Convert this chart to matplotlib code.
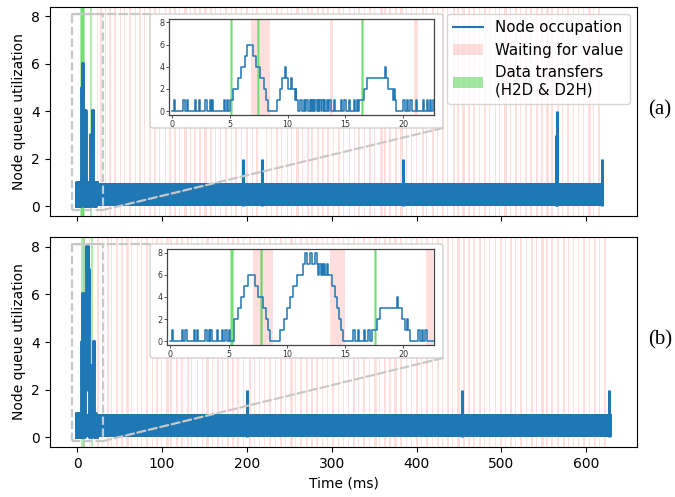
import numpy as np
import matplotlib.pyplot as plt
from matplotlib.lines import Line2D
from matplotlib.patches import Patch, Rectangle, FancyBboxPatch, ConnectionPatch

BLUE = "#1f77b4"
WAIT_COLOR = "red"
WAIT_ALPHA = 0.13
XFER_COLOR = "limegreen"
XFER_ALPHA = 0.45
GUIDE = "#c8c8c8"

# ---- run (a) ----
# queue ramps: (time ms, level after the change)
ramps_a = [(5.0, 1), (5.3, 2), (5.7, 3), (6.0, 4), (6.3, 5), (6.5, 6), (7.0, 5),
           (7.3, 4), (7.65, 3), (8.0, 2), (8.15, 1), (8.3, 0),
           (9.1, 1), (9.3, 2), (9.55, 3), (9.8, 4), (9.9, 3), (10.0, 2), (10.3, 3),
           (10.4, 2), (10.6, 1), (10.7, 2), (10.75, 1), (10.9, 0),
           (16.2, 1), (16.6, 2), (16.9, 3), (18.4, 4), (18.5, 3), (18.7, 2),
           (19.1, 1), (19.2, 2), (19.3, 1), (19.4, 0), (22.6, 1)]
# single-task blips (0 -> 1 -> 0)
blips_a = [0.15, 1.0, 1.3, 2.0, 2.3, 2.9, 3.3, 3.45, 4.5, 4.75,
           11.1, 11.4, 11.6, 11.9, 12.05, 12.2, 12.4, 12.6, 12.75, 13.0, 13.15,
           13.4, 13.6, 14.0, 14.6, 14.9, 15.3, 15.7, 16.0,
           20.0, 20.3, 20.6, 21.1, 21.7, 22.0, 22.3]
busy_end_a = 620
spikes_a = [(196, 2), (217.7, 2), (384, 2), (564.6, 3), (565.3, 4), (619, 2)]
transfers_a = [5.15, 7.5, 16.45]
wait_a = [(6.86, 7.43), (7.57, 8.51), (13.7, 13.9), (20.9, 21.3)]
wait_start_a = [23.5, 27, 33, 38, 44, 50, 55, 61, 68, 73, 79, 85, 91, 96, 103, 108,
                114, 120, 126, 133, 138, 144, 150, 157, 162, 168, 174, 181, 186, 193,
                199, 206, 211, 222, 228, 234, 240, 247, 252, 258, 265, 271, 276, 283,
                289, 295, 301, 307, 313, 320, 326, 331, 338, 344, 350, 357, 362, 368,
                375, 381, 387, 393, 399, 406, 411, 418, 424, 430, 436, 443, 448, 454,
                461, 467, 473, 479, 485, 492, 497, 503, 510, 516, 522, 528, 534, 541,
                547, 553, 559, 566, 571, 577, 584, 590, 596, 602, 608, 614]
wait_width_a = [1.5, 2, 1.5, 2.5, 1.5, 2, 1.5, 3, 1.5, 2, 1.5, 2.5, 1.5, 2, 1.5, 2.5,
                2, 1.5, 3, 1.5, 2, 1.5, 2.5, 1.5, 2, 1.5, 3, 1.5, 2, 1.5,
                2.5, 1.5, 2, 2, 1.5, 2.5, 1.5, 2, 1.5, 3, 1.5, 2, 1.5, 2.5,
                1.5, 2, 1.5, 3, 1.5, 2, 1.5, 2.5, 1.5, 2, 1.5, 3, 1.5, 2,
                1.5, 2.5, 1.5, 2, 1.5, 3, 1.5, 2, 1.5, 2.5, 1.5, 2, 1.5, 3,
                1.5, 2, 1.5, 2.5, 1.5, 2, 1.5, 3, 1.5, 2, 1.5, 2.5, 1.5, 2,
                1.5, 3, 1.5, 2, 1.5, 2.5, 1.5, 2, 1.5, 3, 1.5, 2]

# ---- run (b) ----
ramps_b = [(5.09, 1), (5.43, 2), (5.8, 3), (6.09, 4), (6.37, 5), (6.66, 6), (7.29, 5),
           (7.57, 4), (8.0, 3), (8.23, 2), (8.37, 1), (8.57, 0),
           (9.43, 1), (9.77, 2), (10.0, 3), (10.29, 4), (10.57, 5), (10.86, 6),
           (11.37, 7), (11.57, 8), (11.71, 7), (12.0, 8), (12.14, 7), (12.43, 8),
           (12.57, 7), (12.7, 6), (12.78, 7), (12.9, 6), (13.0, 7), (13.1, 6),
           (13.2, 7), (13.3, 6), (13.45, 7), (13.55, 6), (13.86, 5), (14.14, 4),
           (14.29, 3), (14.5, 2), (14.66, 1), (14.8, 0),
           (17.29, 1), (17.71, 2), (18.0, 3), (19.43, 4), (19.52, 3), (19.86, 2),
           (20.14, 1), (20.35, 2), (20.45, 1), (20.57, 0)]
blips_b = [0.15, 1.0, 1.3, 2.0, 2.3, 3.0, 3.3, 3.45, 4.0, 4.43, 4.71, 5.0,
           15.7, 16.1, 16.6, 17.0, 21.3, 21.6, 21.9]
busy_end_b = 630
spikes_b = [(200, 2), (453, 2), (627, 2)]
transfers_b = [5.3, 7.8, 17.6]
wait_b = [(7.06, 7.8), (7.8, 8.86), (13.7, 15.0), (22.0, 22.6)]
wait_start_b = [24, 29, 35, 40, 46, 52, 58, 63, 70, 75, 81, 88, 93, 99, 105, 110,
                117, 123, 129, 134, 141, 147, 152, 159, 165, 171, 177, 183, 189, 195,
                202, 208, 214, 220, 226, 233, 239, 245, 251, 257, 263, 270, 276, 282,
                288, 294, 300, 307, 313, 319, 325, 331, 337, 344, 350, 356, 362, 368,
                374, 381, 387, 393, 399, 405, 411, 418, 424, 430, 436, 442, 448, 455,
                461, 467, 473, 479, 485, 492, 498, 504, 510, 516, 522, 529, 535, 541,
                547, 553, 559, 566, 572, 578, 584, 590, 596, 603, 609, 615, 621]
wait_width_b = [2, 1.5, 2.5, 1.5, 2, 1.5, 3, 1.5, 2, 1.5, 2.5, 1.5, 2, 1.5, 3, 1.5,
                2, 1.5, 2.5, 1.5, 2, 1.5, 3, 1.5, 2, 1.5, 2.5, 1.5, 2, 1.5,
                3, 1.5, 2, 1.5, 2.5, 1.5, 2, 1.5, 3, 1.5, 2, 1.5, 2.5, 1.5,
                2, 1.5, 3, 1.5, 2, 1.5, 2.5, 1.5, 2, 1.5, 3, 1.5, 2, 1.5,
                2.5, 1.5, 2, 1.5, 3, 1.5, 2, 1.5, 2.5, 1.5, 2, 1.5, 3, 1.5,
                2, 1.5, 2.5, 1.5, 2, 1.5, 3, 1.5, 2, 1.5, 2.5, 1.5, 2, 1.5,
                3, 1.5, 2, 1.5, 2.5, 1.5, 2, 1.5, 3, 1.5, 2, 1.5, 2.5]

BLIP = 0.12


def build_trace(ramps, blips):
    events = [(0.0, 0)] + list(ramps)
    for t in blips:
        events += [(t, 1), (t + BLIP, 0)]
    events.sort(key=lambda e: e[0])
    t = [e[0] for e in events] + [23.0]
    q = [e[1] for e in events] + [events[-1][1]]
    return np.array(t), np.array(q)


def shade(ax, waits, starts, widths, transfers):
    for s, e in waits:
        ax.axvspan(s, e, color=WAIT_COLOR, alpha=WAIT_ALPHA, lw=0, zorder=0)
    for s, w in zip(starts, widths):
        ax.axvspan(s, s + w, color=WAIT_COLOR, alpha=WAIT_ALPHA, lw=0, zorder=0)
    for t in transfers:
        ax.axvspan(t - 0.05, t + 0.05, facecolor=XFER_COLOR, edgecolor=XFER_COLOR,
                   alpha=XFER_ALPHA, lw=1.2, zorder=0.5)


fig = plt.figure(figsize=(6.75, 4.97), dpi=100)
ax_a = fig.add_axes([0.074, 0.5654, 0.87, 0.4206])
ax_b = fig.add_axes([0.074, 0.1006, 0.87, 0.4225], sharex=ax_a)

panels = [
    (ax_a, ramps_a, blips_a, busy_end_a, spikes_a, transfers_a, wait_a, wait_start_a, wait_width_a,
     [0.2504, 0.7686, 0.3926, 0.1932], (0.2222, 0.7425, 0.6563, 0.9718), "(a)", 0.779),
    (ax_b, ramps_b, blips_b, busy_end_b, spikes_b, transfers_b, wait_b, wait_start_b, wait_width_b,
     [0.248, 0.3058, 0.395, 0.1926], (0.2222, 0.2797, 0.6563, 0.5091), "(b)", 0.316),
]

for (ax, ramps, blips, busy_end, spikes, transfers, waits, wstart, wwidth,
     inset_pos, box, tag, tag_y) in panels:
    t, q = build_trace(ramps, blips)

    shade(ax, waits, wstart, wwidth, transfers)
    # dense 0/1 flicker of the queue over the whole run
    ax.fill_between([0, busy_end], 0, 1, color=BLUE, lw=0, zorder=2)
    ax.step(t, q, where="post", color=BLUE, lw=2.8, zorder=2)
    ax.vlines([s[0] for s in spikes], 0, [s[1] for s in spikes], color=BLUE, lw=2.2, zorder=2)

    ax.set_xlim(-32, 660)
    ax.set_ylim(-0.4, 8.4)
    ax.set_yticks([0, 2, 4, 6, 8])
    ax.set_ylabel("Node queue utilization", fontsize=10)
    ax.tick_params(labelsize=10)

    # zoom indicator
    x0, y0, x1, y1 = -6, -0.15, 30.5, 8.1
    ax.add_patch(Rectangle((x0, y0), x1 - x0, y1 - y0, fill=False, edgecolor=GUIDE,
                           ls="--", lw=1.6, zorder=3))
    bl, bb, br, bt = box
    for xy_a, xy_b in [((x0, y1), (bl, bt)), ((x1, y0), (br, bb))]:
        con = ConnectionPatch(xyA=xy_a, coordsA=ax.transData, xyB=xy_b,
                              coordsB=fig.transFigure, color=GUIDE, ls="--", lw=1.6,
                              zorder=3)
        ax.add_artist(con)
    ax.add_patch(FancyBboxPatch((bl, bb), br - bl, bt - bb,
                                boxstyle="round,pad=0,rounding_size=0.005",
                                transform=fig.transFigure, facecolor="white",
                                edgecolor="#d0d0d0", lw=1.0, zorder=4, clip_on=False))

    ins = fig.add_axes(inset_pos, zorder=5)
    shade(ins, waits, wstart, wwidth, transfers)
    ins.step(t, q, where="post", color=BLUE, lw=1.1)
    ins.set_xlim(-0.25, 22.65)
    ins.set_ylim(-0.35, 8.3)
    ins.set_xticks([0, 5, 10, 15, 20])
    ins.set_yticks([0, 2, 4, 6, 8])
    ins.tick_params(labelsize=5.8, length=2, width=0.6, pad=1.5, colors="#333333")
    for sp in ins.spines.values():
        sp.set_color("#444444")
        sp.set_linewidth(0.9)

    fig.text(0.96, tag_y, tag, fontsize=15, family="Liberation Serif", va="center")

plt.setp(ax_a.get_xticklabels(), visible=False)
ax_b.set_xlabel("Time (ms)", fontsize=10)

handles = [Line2D([], [], color=BLUE, lw=1.5),
           Patch(facecolor=WAIT_COLOR, alpha=WAIT_ALPHA, lw=0),
           Patch(facecolor=XFER_COLOR, alpha=XFER_ALPHA, lw=0)]
ax_a.legend(handles, ["Node occupation", "Waiting for value", "Data transfers\n(H2D & D2H)"],
            loc="upper right", fontsize=10.8)

fig.savefig("out.png", dpi=100)
